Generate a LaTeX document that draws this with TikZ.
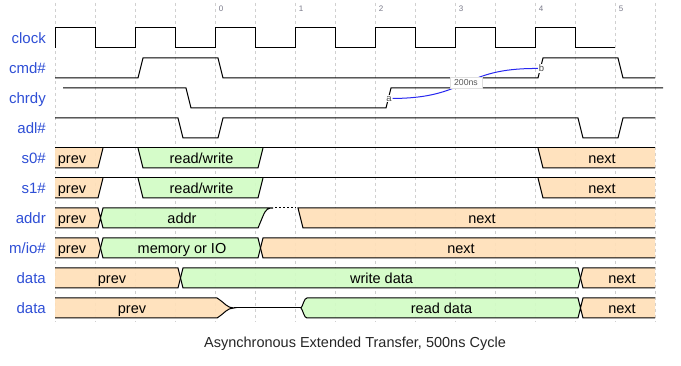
\documentclass[tikz,border=0pt]{standalone}
\usepackage{fontspec}
\setmainfont{Liberation Sans}
\definecolor{lanecol}{HTML}{2F4FD6}
\definecolor{orangecol}{HTML}{FFE0B9}
\definecolor{greencol}{HTML}{D2FCC5}
\definecolor{gridcol}{HTML}{D0D0D0}
\definecolor{tickcol}{HTML}{7A7A8A}
\definecolor{arrcol}{HTML}{2828F0}
\tikzset{
  wave/.style={line width=1pt, black},
  gridline/.style={line width=1pt, gridcol, dash pattern=on 3pt off 3pt},
  lanelbl/.style={anchor=base east, inner sep=0pt, text=lanecol, font=\fontsize{15}{15}\selectfont},
  dtxt/.style={anchor=base, inner sep=0pt, font=\fontsize{14.5}{14.5}\selectfont},
  ticklbl/.style={anchor=base, inner sep=0pt, text=tickcol, font=\fontsize{8}{8}\selectfont},
  ofill/.style={fill=orangecol, fill opacity=0.92},
  gfill/.style={fill=greencol, fill opacity=0.92},
  ptlbl/.style={fill=white, inner sep=0.8pt, text=black!70, font=\fontsize{9.5}{9.5}\selectfont},
  boxlbl/.style={fill=white, draw=gray!25, line width=0.5pt, inner sep=0pt, minimum width=32pt, minimum height=11pt, text=black!65, font=\fontsize{8.7}{8.7}\selectfont},
  acurve/.style={line width=1pt, arrcol}
}
\begin{document}
\begin{tikzpicture}[x=1pt,y=-1pt]
\useasboundingbox[fill=white] (0,0) rectangle (681,366);
% grid
\foreach \i in {0,...,15} \draw[gridline] ({55+40*\i},3) -- ({55+40*\i},322);
% ticks
\foreach \n in {0,...,5} \node[ticklbl] (t\n) at ({221+80*\n},12) {\n};
% lane labels
\node[lanelbl] (Lclock) at (46,43.8) {clock};
\node[lanelbl] (Lcmd) at (46,73.8) {cmd\#};
\node[lanelbl] (Lchrdy) at (46,103.8) {chrdy};
\node[lanelbl] (Ladl) at (46,133.8) {adl\#};
\node[lanelbl] (Ls0) at (46,163.8) {s0\#};
\node[lanelbl] (Ls1) at (46,193.8) {s1\#};
\node[lanelbl] (Laddr) at (46,223.8) {addr};
\node[lanelbl] (Lmio) at (46,253.8) {m/io\#};
\node[lanelbl] (Ldata) at (46,283.8) {data};
\node[lanelbl] (Ldatb) at (46,313.8) {data};
% clock
\draw[wave] (55,48)--(55,28)--(95,28)--(95,48)--(135,48)--(135,28)--(175,28)--(175,48)--(215,48)--(215,28)--(255,28)--(255,48)--(295,48)--(295,28)--(335,28)--(335,48)--(375,48)--(375,28)--(415,28)--(415,48)--(455,48)--(455,28)--(495,28)--(495,48)--(535,48)--(535,28)--(575,28)--(575,48)--(615,48);
% cmd#
\draw[wave] (55,78)--(138,78)--(143,58)--(218,58)--(223,78)--(538,78)--(543,58)--(618,58)--(623,78)--(655,78);
% chrdy
\draw[wave] (63,88)--(186,88)--(191,108)--(386,108)--(391,88)--(663,88);
% adl#
\draw[wave] (55,118)--(178,118)--(183,138)--(218,138)--(223,118)--(578,118)--(583,138)--(618,138)--(623,118)--(655,118);
% s0# and s1#
\foreach \t/\b in {148/168,178/198}{
  \fill[ofill] (55,\t)--(103,\t)--(98,\b)--(55,\b)--cycle;
  \fill[gfill] (138,\t)--(263,\t)--(258,\b)--(143,\b)--cycle;
  \fill[ofill] (538,\t)--(655,\t)--(655,\b)--(543,\b)--cycle;
  \draw[wave] (55,\t)--(655,\t);
  \draw[wave] (55,\b)--(98,\b)--(103,\t);
  \draw[wave] (138,\t)--(143,\b)--(258,\b)--(263,\t);
  \draw[wave] (538,\t)--(543,\b)--(655,\b);
}
\node[dtxt] (s0prev) at (72,163.5) {prev};
\node[dtxt] (s0rw) at (201.5,163.5) {read/write};
\node[dtxt] (s0next) at (602,163.5) {next};
\node[dtxt] (s1prev) at (72,193.5) {prev};
\node[dtxt] (s1rw) at (201.5,193.5) {read/write};
\node[dtxt] (s1next) at (602,193.5) {next};
% addr
\fill[ofill] (55,208)--(98,208)--(100.5,218)--(98,228)--(55,228)--cycle;
\fill[gfill] (100.5,218)--(103,208)--(273,208) .. controls (268,208) and (266,209) .. (263,216)--(258,228)--(103,228)--cycle;
\fill[ofill] (298,208)--(655,208)--(655,228)--(303,228)--cycle;
\draw[wave] (55,208)--(98,208)--(103,228)--(258,228)--(263,216) .. controls (266,209) and (268,208) .. (273,208)--(103,208)--(98,228)--(55,228);
\draw[line width=1pt, black, dash pattern=on 2pt off 2pt] (275,208)--(296,208);
\draw[wave] (655,208)--(298,208)--(303,228)--(655,228);
\node[dtxt] (aprev) at (72,223.5) {prev};
\node[dtxt] (aaddr) at (182,223.5) {addr};
\node[dtxt] (anext) at (482,223.5) {next};
% m/io#
\fill[ofill] (55,238)--(98,238)--(100.5,248)--(98,258)--(55,258)--cycle;
\fill[gfill] (100.5,248)--(103,238)--(258,238)--(260.5,248)--(258,258)--(103,258)--cycle;
\fill[ofill] (260.5,248)--(263,238)--(655,238)--(655,258)--(263,258)--cycle;
\draw[wave] (55,238)--(98,238)--(103,258)--(258,258)--(263,238)--(655,238);
\draw[wave] (55,258)--(98,258)--(103,238)--(258,238)--(263,258)--(655,258);
\node[dtxt] (mprev) at (72,253.5) {prev};
\node[dtxt] (mmem) at (182,253.5) {memory or IO};
\node[dtxt] (mnext) at (461,253.5) {next};
% data (write)
\fill[ofill] (55,268)--(178,268)--(180.5,278)--(178,288)--(55,288)--cycle;
\fill[gfill] (180.5,278)--(183,268)--(578,268)--(580.5,278)--(578,288)--(183,288)--cycle;
\fill[ofill] (580.5,278)--(583,268)--(655,268)--(655,288)--(583,288)--cycle;
\draw[wave] (55,268)--(178,268)--(183,288)--(578,288)--(583,268)--(655,268);
\draw[wave] (55,288)--(178,288)--(183,268)--(578,268)--(583,288)--(655,288);
\node[dtxt] (dprev) at (112,283.5) {prev};
\node[dtxt] (dwrite) at (381.5,283.5) {write data};
\node[dtxt] (dnext) at (622,283.5) {next};
% data (read)
\fill[ofill] (55,298)--(217,298) .. controls (225,303) and (227,308) .. (234,308) .. controls (227,308) and (225,313) .. (217,318)--(55,318)--cycle;
\fill[gfill] (301,308) .. controls (303,306) and (304,298) .. (307,298)--(578,298)--(580.5,308)--(578,318)--(307,318) .. controls (304,318) and (303,310) .. (301,308)--cycle;
\fill[ofill] (580.5,308)--(583,298)--(655,298)--(655,318)--(583,318)--cycle;
\draw[wave] (55,298)--(217,298) .. controls (225,303) and (227,308) .. (234,308) .. controls (227,308) and (225,313) .. (217,318)--(55,318);
\draw[wave] (234,308)--(301,308);
\draw[wave] (655,298)--(583,298)--(578,318)--(307,318) .. controls (304,318) and (303,310) .. (301,308) .. controls (303,306) and (304,298) .. (307,298)--(578,298)--(583,318)--(655,318);
\node[dtxt] (rprev) at (132,313.5) {prev};
\node[dtxt] (rread) at (441.5,313.5) {read data};
\node[dtxt] (rnext) at (622,313.5) {next};
% annotation
\node[ptlbl] (a) at (389,98.5) {a};
\node[ptlbl] (b) at (541.5,68.5) {b};
\draw[acurve] (a) .. controls (470,98) and (460,68) .. (b);
\node[boxlbl] (lab) at (466,83) {200ns};
% title
\node[dtxt, text=black!85] (title) at (355,347.5) {Asynchronous Extended Transfer, 500ns Cycle};
\end{tikzpicture}
\end{document}
